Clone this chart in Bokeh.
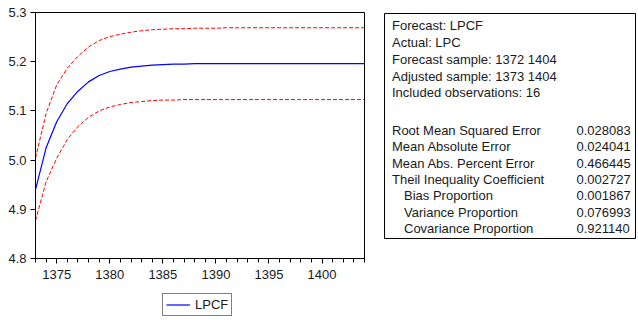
from bokeh.plotting import figure
from bokeh.layouts import row, column
from bokeh.models import (Range1d, FixedTicker, Legend, LegendItem, Label,
                          CustomJSTickFormatter)
from bokeh.embed import file_html
from bokeh.resources import INLINE

# ---------------- data ----------------
years = list(range(1373, 1405))
lpcf = [4.940, 5.025, 5.078, 5.115, 5.140, 5.159, 5.172, 5.180, 5.185, 5.189,
        5.191, 5.193, 5.194, 5.195, 5.195, 5.196, 5.196, 5.196, 5.196, 5.196,
        5.196, 5.196, 5.196, 5.196, 5.196, 5.196, 5.196, 5.196, 5.196, 5.196,
        5.196, 5.196]
upper = [5.004, 5.095, 5.153, 5.187, 5.211, 5.230, 5.243, 5.251, 5.256, 5.260,
         5.263, 5.265, 5.266, 5.267, 5.267, 5.268, 5.268, 5.268, 5.269, 5.269,
         5.269, 5.269, 5.269, 5.269, 5.269, 5.269, 5.269, 5.269, 5.269, 5.269,
         5.269, 5.269]
lower = [4.877, 4.956, 5.004, 5.042, 5.068, 5.087, 5.100, 5.108, 5.113, 5.117,
         5.119, 5.121, 5.122, 5.122, 5.123, 5.123, 5.123, 5.123, 5.123, 5.123,
         5.123, 5.123, 5.123, 5.123, 5.123, 5.123, 5.123, 5.123, 5.123, 5.123,
         5.123, 5.123]
x_ticks = [1375, 1380, 1385, 1390, 1395, 1400]
y_ticks = [4.8, 4.9, 5.0, 5.1, 5.2, 5.3]
series_name = "LPCF"

header_lines = ["Forecast: LPCF", "Actual: LPC", "Forecast sample: 1372 1404",
                "Adjusted sample: 1373 1404", "Included observations: 16"]
stat_names = ["Root Mean Squared Error", "Mean Absolute Error",
              "Mean Abs. Percent Error", "Theil Inequality Coefficient",
              "Bias Proportion", "Variance Proportion", "Covariance Proportion"]
stat_values = ["0.028083", "0.024041", "0.466445", "0.002727",
               "0.001867", "0.076993", "0.921140"]
stat_indent = [0, 0, 0, 0, 1, 1, 1]

FONT = "Liberation Sans"
TXT = "#1a1a1a"
BLUE = "#0000FF"
RED = "#FF0000"

# ---------------- chart ----------------
W1, H1 = 370, 286
FL, FR, FT, FB = 35, 364, 12, 258

p = figure(width=W1, height=H1, output_backend="svg", toolbar_location=None,
           x_range=Range1d(years[0], years[-1]),
           y_range=Range1d(y_ticks[0], y_ticks[-1]),
           min_border_left=FL, min_border_right=W1 - FR,
           min_border_top=FT, min_border_bottom=H1 - FB)
p.xgrid.visible = False
p.ygrid.visible = False
p.outline_line_color = "black"
p.outline_line_width = 1
p.background_fill_color = "white"
p.border_fill_color = "white"

p.xaxis.ticker = FixedTicker(ticks=x_ticks, minor_ticks=years)
p.yaxis.ticker = FixedTicker(ticks=y_ticks)
for ax in (p.xaxis, p.yaxis):
    ax.axis_line_color = "black"
    ax.major_tick_line_color = "black"
    ax.minor_tick_line_color = "black"
    ax.major_tick_in = 0
    ax.major_tick_out = 5
    ax.minor_tick_in = 0
    ax.major_label_text_font = FONT
    ax.major_label_text_font_size = "13px"
    ax.major_label_text_color = TXT
p.xaxis.minor_tick_out = 4
p.yaxis.minor_tick_line_color = None
p.xaxis.major_label_standoff = 6
p.yaxis.major_label_standoff = 4
p.yaxis.formatter = CustomJSTickFormatter(code="return tick.toFixed(1)")

p.line(years, upper, line_color=RED, line_width=1, line_dash="4 2")
p.line(years, lower, line_color=RED, line_width=1, line_dash="4 2")
p.line(years, lpcf, line_color=BLUE, line_width=1.2)

# ---------------- legend strip under the chart ----------------
# (frames of a column are aligned, so this frame also starts at x = FL)
H2 = 320 - H1
lf = figure(width=W1, height=H2, output_backend="svg", toolbar_location=None,
            x_range=Range1d(0, 1), y_range=Range1d(0, 1),
            x_axis_type=None, y_axis_type=None, min_border=0)
lf.outline_line_color = None
lf.border_fill_color = "white"
lf.xgrid.visible = False
lf.ygrid.visible = False
# key line: the series itself, lying outside this strip's ranges
key = lf.line(years, lpcf, line_color=BLUE, line_width=1.2)
legend = Legend(items=[LegendItem(label=series_name, renderers=[key])],
                location=(162 - FL, 320 - 316),
                border_line_color="black", border_line_width=1,
                padding=3, spacing=0, margin=0,
                glyph_width=24, glyph_height=15, label_height=15,
                label_standoff=5, label_text_font=FONT,
                label_text_font_size="13px", label_text_color=TXT,
                background_fill_color="white", background_fill_alpha=1)
lf.add_layout(legend)

# ---------------- statistics box ----------------
W2 = 638 - W1
BL, BR, BT, BB = 384, 635, 13, 238   # page coordinates of the box
q = figure(width=W2, height=320, output_backend="svg", toolbar_location=None,
           x_range=Range1d(0, 1), y_range=Range1d(0, 1),
           x_axis_type=None, y_axis_type=None,
           min_border_left=BL - W1, min_border_right=638 - BR,
           min_border_top=BT, min_border_bottom=320 - BB)
q.xgrid.visible = False
q.ygrid.visible = False
q.outline_line_color = "black"
q.outline_line_width = 1
q.border_fill_color = "white"

text_x = 391.5 - BL
val_x = 576 - BL
header_centers = [25, 41.7, 58.6, 75.6, 92]
stat_centers = [129.5, 146, 162.5, 179, 195.3, 211.7, 228]
for txt, cy in zip(header_lines, header_centers):
    q.add_layout(Label(x=text_x, y=BB - cy, x_units="screen", y_units="screen",
                       text=txt, text_font=FONT, text_font_size="13px",
                       text_color=TXT, text_baseline="middle"))
for name, val, ind, cy in zip(stat_names, stat_values, stat_indent, stat_centers):
    q.add_layout(Label(x=text_x + 12 * ind, y=BB - cy, x_units="screen",
                       y_units="screen", text=name, text_font=FONT,
                       text_font_size="13px", text_color=TXT,
                       text_baseline="middle"))
    q.add_layout(Label(x=val_x, y=BB - cy, x_units="screen", y_units="screen",
                       text=val, text_font=FONT, text_font_size="13px",
                       text_color=TXT, text_baseline="middle"))

layout = row(column(p, lf, spacing=0), q, spacing=0)
open("out.html", "w").write(file_html(layout, INLINE))
